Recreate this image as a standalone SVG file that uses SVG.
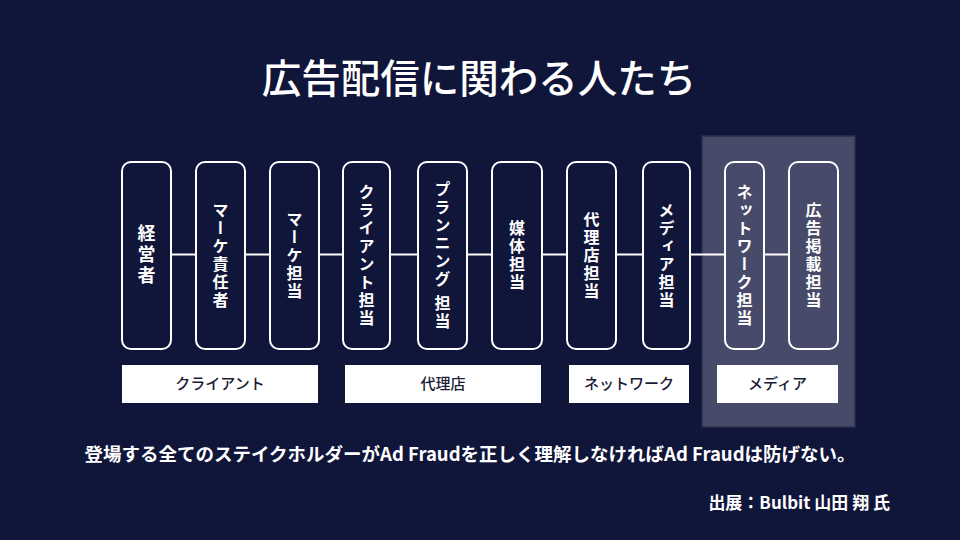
<svg xmlns="http://www.w3.org/2000/svg" width="960" height="540" viewBox="0 0 960 540">
<style>
  text { font-family: "Noto Sans CJK JP", "Noto Sans", sans-serif; }
  .box { fill: #10153a; stroke: #ffffff; stroke-width: 2; }
  .boxp { fill: none; stroke: #ffffff; stroke-width: 2; }
  .vt { fill: #ffffff; font-size: 16px; font-weight: 700; letter-spacing: 2px; writing-mode: vertical-rl; text-orientation: upright; text-anchor: middle; }
  .conn line { stroke: #ffffff; stroke-width: 2; }
  .lab { fill: #ffffff; }
  .labt { fill: #1b1c35; font-size: 15px; font-weight: 500; text-anchor: middle; }
</style>
<rect x="0" y="0" width="960" height="540" fill="#10153a"/>
<rect id="media-panel" x="702" y="136" width="153" height="291" fill="#474a68" stroke="#2c2f4a" stroke-width="1.5"/>
<text x="479" y="93" text-anchor="middle" fill="#ffffff" font-size="39.5" font-weight="500">広告配信に関わる人たち</text>
<g class="conn">
  <line x1="171" y1="254.5" x2="196" y2="254.5"/>
  <line x1="245" y1="254.5" x2="270" y2="254.5"/>
  <line x1="319" y1="254.5" x2="343" y2="254.5"/>
  <line x1="390" y1="254.5" x2="418" y2="254.5"/>
  <line x1="467" y1="254.5" x2="492" y2="254.5"/>
  <line x1="542" y1="254.5" x2="567" y2="254.5"/>
  <line x1="616" y1="254.5" x2="643" y2="254.5"/>
  <line x1="690" y1="254.5" x2="725" y2="254.5"/>
  <line x1="764" y1="254.5" x2="789" y2="254.5"/>
</g>
<g id="n1"><rect class="box" x="122" y="162" width="49" height="187" rx="9"/><text class="vt" x="146.5" y="256" style="font-size:18px;letter-spacing:3px">経営者</text></g>
<g id="n2"><rect class="box" x="196" y="162" width="49" height="187" rx="9"/><text class="vt" x="220.5" y="256">マーケ責任者</text></g>
<g id="n3"><rect class="box" x="270" y="162" width="49" height="187" rx="9"/><text class="vt" x="294.5" y="256">マーケ担当</text></g>
<g id="n4"><rect class="box" x="343" y="162" width="47" height="187" rx="9"/><text class="vt" x="366.5" y="256">クライアント担当</text></g>
<g id="n5"><rect class="box" x="418" y="162" width="49" height="187" rx="9"/><text class="vt" x="442.5" y="256">プランニング<tspan dy="6">担当</tspan></text></g>
<g id="n6"><rect class="box" x="492" y="162" width="50" height="187" rx="9"/><text class="vt" x="517" y="256">媒体担当</text></g>
<g id="n7"><rect class="box" x="567" y="162" width="49" height="187" rx="9"/><text class="vt" x="591.5" y="256">代理店担当</text></g>
<g id="n8"><rect class="box" x="643" y="162" width="47" height="187" rx="9"/><text class="vt" x="666.5" y="256">メディア担当</text></g>
<g id="n9"><rect class="boxp" x="725" y="162" width="39" height="187" rx="9"/><text class="vt" x="744.5" y="256">ネットワーク担当</text></g>
<g id="n10"><rect class="boxp" x="789" y="162" width="49" height="187" rx="9"/><text class="vt" x="813.5" y="256">広告掲載担当</text></g>
<g id="l1"><rect class="lab" x="122" y="365" width="196" height="38"/><text class="labt" x="220" y="389">クライアント</text></g>
<g id="l2"><rect class="lab" x="345" y="365" width="196" height="38"/><text class="labt" x="443" y="389">代理店</text></g>
<g id="l3"><rect class="lab" x="569" y="365" width="120" height="38"/><text class="labt" x="629" y="389">ネットワーク</text></g>
<g id="l4"><rect class="lab" x="717" y="365" width="121" height="38"/><text class="labt" x="777.5" y="389">メディア</text></g>
<text x="470" y="461" text-anchor="middle" fill="#ffffff" font-size="18.5" font-weight="700">登場する全てのステイクホルダーがAd Fraudを正しく理解しなければAd Fraudは防げない。</text>
<text x="890" y="509" text-anchor="end" fill="#ffffff" font-size="17" font-weight="700">出展：Bulbit 山田 翔 氏</text>
</svg>
